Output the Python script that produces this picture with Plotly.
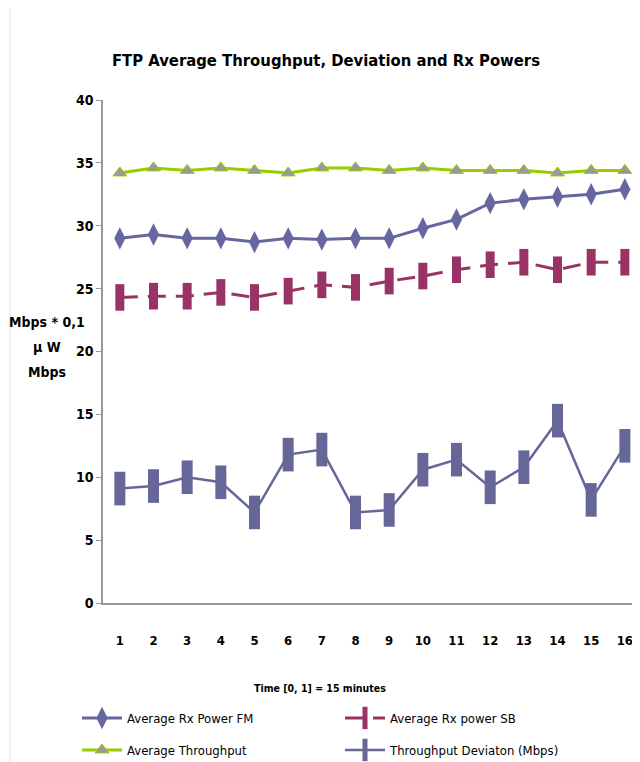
import plotly.graph_objects as go

x_labels = [str(i) for i in range(1, 17)]
rx_fm = [29.0, 29.3, 29.0, 29.0, 28.7, 29.0, 28.9, 29.0, 29.0, 29.8, 30.5, 31.8, 32.1, 32.3, 32.5, 32.9]
rx_sb = [24.3, 24.4, 24.4, 24.7, 24.3, 24.8, 25.3, 25.1, 25.6, 26.0, 26.5, 26.9, 27.1, 26.5, 27.1, 27.1]
throughput = [34.2, 34.6, 34.4, 34.6, 34.4, 34.2, 34.6, 34.6, 34.4, 34.6, 34.4, 34.4, 34.4, 34.2, 34.4, 34.4]
deviation = [9.1, 9.3, 10.0, 9.6, 7.2, 11.8, 12.2, 7.2, 7.4, 10.6, 11.4, 9.2, 10.8, 14.5, 8.2, 12.5]

xs = list(range(1, 17))
FONT = "Liberation Sans Narrow, DejaVu Sans Condensed, Liberation Sans, Arial"
W, H = 640, 762
D = 8  # page body margin offset
L, T, R, B = 103 - D, 100 - D, D, H - (603 - D)
PW, PH = W - L - R, H - T - B

fig = go.Figure()
fig.add_trace(go.Scatter(
    x=xs, y=rx_fm, name="Average Rx Power FM", mode="lines+markers", legend="legend",
    line=dict(color="#6666A0", width=3),
    marker=dict(symbol="diamond-tall", size=16, color="#6666A0")))
fig.add_trace(go.Scatter(
    x=xs, y=rx_sb, name="Average Rx power SB", mode="lines+markers", legend="legend",
    line=dict(color="#993366", width=3, dash="18px,10px"),
    marker=dict(symbol="line-ns", size=19, line=dict(color="#993366", width=9))))
fig.add_trace(go.Scatter(
    x=xs, y=throughput, name="Average Throughput", mode="lines+markers", legend="legend2",
    line=dict(color="#99CC00", width=3),
    marker=dict(symbol="triangle-up", size=12, color="#999999",
                line=dict(color="#99CC00", width=1))))
fig.add_trace(go.Scatter(
    x=xs, y=deviation, name="Throughput Deviaton (Mbps)", mode="lines+markers", legend="legend2",
    line=dict(color="#666699", width=2.5),
    marker=dict(symbol="line-ns", size=24, line=dict(color="#666699", width=11))))

leg_common = dict(orientation="h", xref="container", yref="container",
                  x=(77 - D) / W, xanchor="left", yanchor="middle",
                  entrywidth=208, itemwidth=40, font=dict(size=13, family=FONT),
                  bgcolor="rgba(0,0,0,0)")

fig.update_layout(
    width=W, height=H,
    paper_bgcolor="white", plot_bgcolor="white",
    margin=dict(l=L, r=R, t=T, b=B, autoexpand=False),
    font=dict(family=FONT, color="black"),
    title=dict(text="<b>FTP Average Throughput, Deviation and Rx Powers</b>",
               x=(326 - D) / W, xanchor="center", y=1 - (60 - D) / H, yanchor="middle",
               font=dict(size=16.5, family=FONT)),
    xaxis=dict(range=[0.5, 16.45], tickmode="array", tickvals=xs, ticktext=x_labels,
               showline=True, linecolor="#999999", linewidth=1.5, ticks="",
               showgrid=False, zeroline=False, ticklabelstandoff=25,
               tickfont=dict(size=13, family=FONT, weight="bold")),
    yaxis=dict(range=[0, 40], tickvals=[0, 5, 10, 15, 20, 25, 30, 35, 40],
               showline=True, linecolor="#999999", linewidth=1.5, ticks="outside",
               ticklen=5, tickcolor="#999999", showgrid=False, zeroline=False,
               tickfont=dict(size=14, family=FONT, weight="bold")),
    legend=dict(**leg_common, y=1 - (718 - D) / H),
    legend2=dict(**leg_common, y=1 - (750 - D) / H),
    showlegend=True,
)

def px_x(sx):
    return (sx - D - L) / PW

def px_y(sy):
    return (H - B - (sy - D)) / PH

fig.add_annotation(text="<b>Time [0, 1] = 15 minutes</b>", xref="paper", yref="paper",
                   x=px_x(320), y=px_y(688), showarrow=False,
                   font=dict(size=10.5, family=FONT), xanchor="center", yanchor="middle")
for txt, sy in [("Mbps * 0,1", 322), ("μ W", 347), ("Mbps", 372)]:
    fig.add_annotation(text="<b>%s</b>" % txt, xref="paper", yref="paper",
                       x=px_x(47), y=px_y(sy), showarrow=False,
                       font=dict(size=14, family=FONT), xanchor="center", yanchor="middle")
fig.add_shape(type="line", xref="paper", yref="paper",
              x0=px_x(10), x1=px_x(10), y0=px_y(770), y1=px_y(0),
              line=dict(color="#E0E0E0", width=1))

fig.write_html("out.html")
